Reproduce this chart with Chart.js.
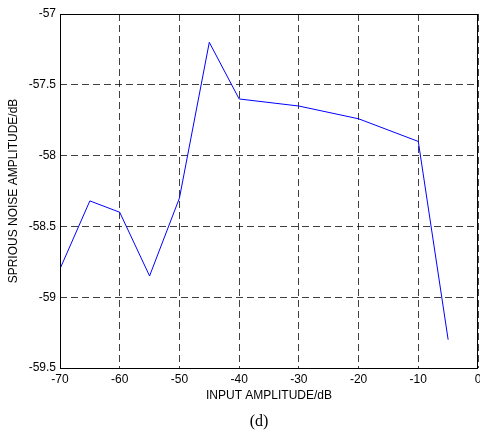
<!DOCTYPE html>
<html lang="en">
<head>
    <meta charset="UTF-8">
    <title>Sprious noise vs input amplitude</title>
    <script src="https://cdn.jsdelivr.net/npm/chart.js"></script>
    <style>
        html, body { margin: 0; padding: 0; background: #fff; }
        #wrap { position: relative; width: 480px; height: 432px; }
        #caption {
            position: absolute; left: 259px; top: 421px;
            transform: translate(-50%, -50%);
            font-family: "Liberation Serif", "Times New Roman", serif;
            font-size: 16px; color: #000;
        }
    </style>
</head>
<body>
    <div id="wrap">
        <canvas id="noiseChart" width="480" height="432"></canvas>
        <div id="caption">(d)</div>
    </div>

    <script>
        // data
        let inputAmp = [-70, -65, -60, -55, -50, -45, -40, -30, -20, -10, -5];
        let noiseAmp = [-58.8, -58.32, -58.4, -58.85, -58.3, -57.2, -57.6, -57.65, -57.74, -57.9, -59.3];

        let xTicks = [-70, -60, -50, -40, -30, -20, -10, 0];
        let yTicks = [-59.5, -59, -58.5, -58, -57.5, -57];

        let fontName = "'Liberation Sans', Arial, sans-serif";

        // box round the plot area, like matlab
        let boxPlugin = {
            id: "box",
            afterDraw(chart) {
                let a = chart.chartArea;
                let c = chart.ctx;
                c.save();
                c.strokeStyle = "#000";
                c.lineWidth = 1;
                c.setLineDash([]);
                c.strokeRect(Math.round(a.left) + 0.5, Math.round(a.top) + 0.5,
                    Math.round(a.right - a.left) - 1, Math.round(a.bottom - a.top));
                c.restore();
            }
        };

        let ctx = document.getElementById("noiseChart").getContext("2d");

        let chart = new Chart(ctx, {
            type: "line",
            data: {
                datasets: [{
                    data: inputAmp.map((x, i) => ({ x: x, y: noiseAmp[i] })),
                    borderColor: "#0000ff",
                    borderWidth: 1,
                    pointRadius: 0,
                    tension: 0,
                    fill: false
                }]
            },
            options: {
                responsive: false,
                animation: false,
                layout: { padding: { top: 14, right: 2, left: 0, bottom: 0 } },
                plugins: { legend: { display: false }, tooltip: { enabled: false } },
                scales: {
                    x: {
                        type: "linear",
                        min: -70,
                        max: 0,
                        afterBuildTicks(s) { s.ticks = xTicks.map(v => ({ value: v })); },
                        afterFit(s) { s.height = 64; s.paddingRight = 0; },
                        ticks: {
                            color: "#000", padding: 4, autoSkip: false, maxRotation: 0,
                            font: { family: fontName, size: 12 },
                            callback: v => String(v)
                        },
                        grid: { color: "rgba(0,0,0,0.75)", lineWidth: 1, drawTicks: false },
                        border: { display: false, dash: [7, 4] },
                        title: {
                            display: true,
                            text: "INPUT AMPLITUDE/dB",
                            color: "#000",
                            font: { family: fontName, size: 12 },
                            padding: { top: 0, bottom: 29 }
                        }
                    },
                    y: {
                        type: "linear",
                        min: -59.5,
                        max: -57,
                        afterBuildTicks(s) { s.ticks = yTicks.map(v => ({ value: v })); },
                        afterFit(s) { s.width = 60; },
                        ticks: {
                            color: "#000", padding: 4, autoSkip: false,
                            font: { family: fontName, size: 12 },
                            callback: v => String(v)
                        },
                        grid: { color: "rgba(0,0,0,0.75)", lineWidth: 1, drawTicks: false },
                        border: { display: false, dash: [7, 4] },
                        title: {
                            display: true,
                            text: "SPRIOUS NOISE AMPLITUDE/dB",
                            color: "#000",
                            font: { family: fontName, size: 12 },
                            padding: { top: 6, bottom: 0 }
                        }
                    }
                }
            },
            plugins: [boxPlugin]
        });
    </script>
</body>
</html>
